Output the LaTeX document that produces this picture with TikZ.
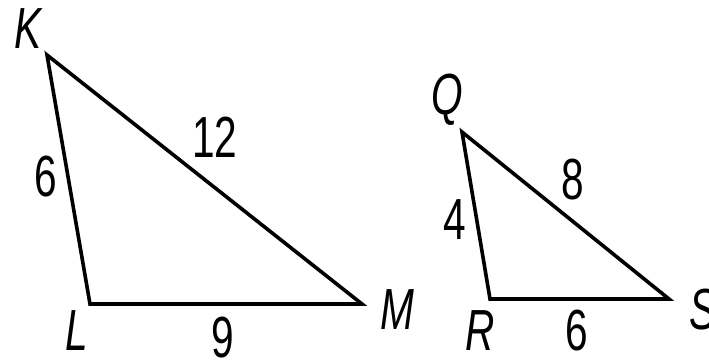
\documentclass[tikz,border=0pt]{standalone}
\usepackage{fontspec}
\setmainfont[FakeStretch=0.7]{Liberation Sans}
\usepackage{tikz}

\begin{document}
\begin{tikzpicture}[x=1pt,y=-1pt,
    edge/.style={line width=3.6pt, line join=miter},
    vlabel/.style={font=\fontsize{58}{60}\selectfont\itshape, inner sep=0pt},
    slabel/.style={font=\fontsize{58}{60}\selectfont, inner sep=0pt}]
    \useasboundingbox (0,0) rectangle (709,361);
    \coordinate (K) at (47,55);
    \coordinate (L) at (90,304);
    \coordinate (M) at (362,304);
    \coordinate (Q) at (462,132);
    \coordinate (R) at (490,299);
    \coordinate (S) at (669,299);
    \draw[edge] (K) -- (L) -- (M) -- cycle;
    \draw[edge] (Q) -- (R) -- (S) -- cycle;
    \node[vlabel] (labK) at (28,29) {K};
    \node[vlabel] (labL) at (77,331) {L};
    \node[vlabel] (labM) at (397,310) {M};
    \node[vlabel] (labQ) at (447,100) {Q};
    \node[vlabel] (labR) at (480,331) {R};
    \node[vlabel] (labS) at (703,310) {S};
    \node[slabel] (kl) at (46,177) {6};
    \node[slabel] (km) at (215,137) {12};
    \node[slabel] (lm) at (223,338) {9};
    \node[slabel] (qr) at (455,220) {4};
    \node[slabel] (qs) at (573,180) {8};
    \node[slabel] (rs) at (577,331) {6};
\end{tikzpicture}
\end{document}
